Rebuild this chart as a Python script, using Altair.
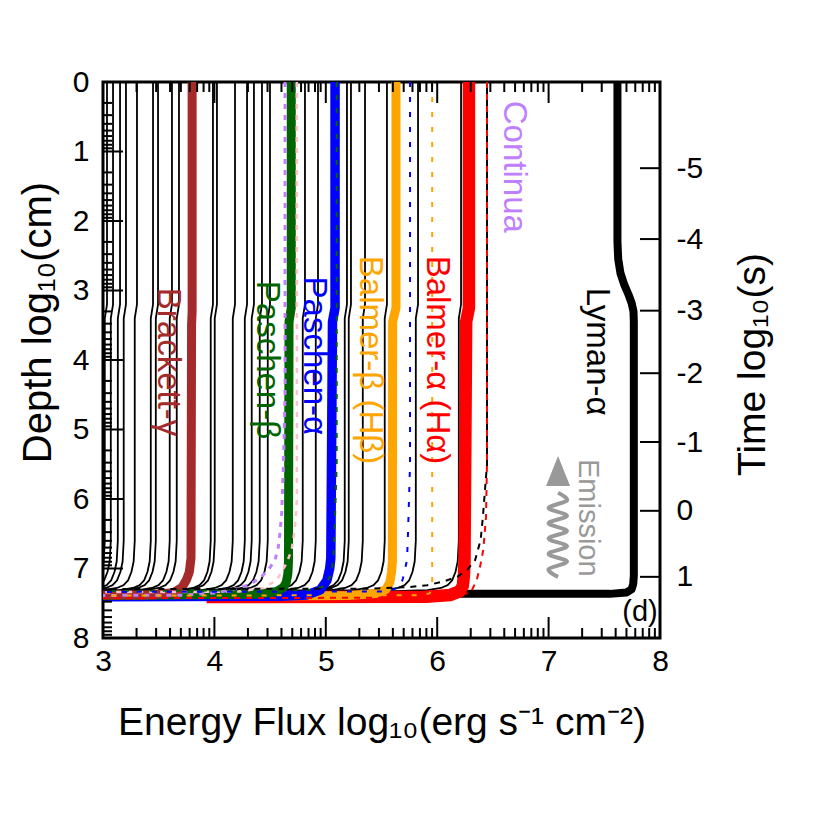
import altair as alt
import pandas as pd

W, H = 557, 556
FONT = "Liberation Sans"

# ---------------- data ----------------
# thin black lines: flux at the surface (log10 erg s-1 cm-2)
THIN_F0 = [3.036, 3.09, 3.153, 3.206, 3.305, 3.449, 3.494, 3.619, 3.682,
           3.987, 4.023, 4.185, 4.293, 4.355, 4.427, 4.499, 4.813, 4.93,
           5.19, 5.226, 5.352, 5.549, 5.828, 6.214]
# common shape of the thin lines (depth, flux change)
PROFILE_DEPTH = [0.0, 3.2, 3.4, 6.6, 6.9, 7.05, 7.17, 7.24, 7.28, 7.31, 7.325, 7.33]
PROFILE_DF = [0.0, 0.0, -0.02, -0.02, -0.03, -0.05, -0.08, -0.12, -0.18, -0.3, -0.6, -5.0]

BRACKETT_X = [3.80, 3.80, 3.795, 3.79, 3.775, 3.75, 3.71, 3.63, 3.4, 2.0]
BRACKETT_Y = [0.0, 3.3, 3.5, 6.85, 7.05, 7.16, 7.27, 7.35, 7.38, 7.39]
PASCHEN_B_X = [4.69, 4.69, 4.67, 4.665, 4.66, 4.645, 4.62, 4.56, 4.4, 2.0]
PASCHEN_B_Y = [0.0, 3.25, 3.45, 6.9, 7.07, 7.2, 7.27, 7.33, 7.37, 7.40]
PASCHEN_A_X = [5.083, 5.083, 5.06, 5.045, 5.035, 5.01, 4.95, 4.83, 4.6, 2.0]
PASCHEN_A_Y = [0.0, 3.25, 3.45, 6.85, 7.0, 7.17, 7.31, 7.38, 7.40, 7.41]
BALMER_B_X = [5.63, 5.63, 5.60, 5.598, 5.59, 5.575, 5.54, 5.45, 5.2, 4.0]
BALMER_B_Y = [0.0, 3.25, 3.45, 6.9, 7.05, 7.2, 7.3, 7.36, 7.39, 7.40]
BALMER_A_X = [6.285, 6.285, 6.26, 6.245, 6.24, 6.23, 6.2, 6.12, 5.9, 3.93]
BALMER_A_Y = [0.0, 3.25, 3.45, 6.9, 7.1, 7.25, 7.33, 7.38, 7.405, 7.41]
LYMAN_X = [7.618, 7.618, 7.625, 7.645, 7.68, 7.715, 7.745, 7.762, 7.765, 7.765,
           7.76, 7.745, 7.70, 7.55, 6.2]
LYMAN_Y = [0.0, 2.3, 2.55, 2.75, 2.92, 3.05, 3.18, 3.3, 3.45, 7.1,
           7.22, 7.3, 7.345, 7.365, 7.365]

PURPLE_X = [4.634, 4.634, 4.62, 4.604, 4.589, 4.574, 4.544, 4.484, 4.409, 4.305, 4.17, 4.02, 3.7, 2.0]
PURPLE_Y = [0.0, 4.5, 5.5, 6.2, 6.48, 6.69, 6.88, 7.02, 7.14, 7.24, 7.3, 7.35, 7.385, 7.39]
PINK_X = [4.74, 4.74, 4.724, 4.694, 4.649, 4.559, 4.439, 4.2, 2.0]
PINK_Y = [0.0, 6.0, 6.4, 6.73, 6.92, 7.17, 7.28, 7.335, 7.345]
GREEN_DOT_X = [5.098, 5.098, 5.083, 5.068, 5.038, 4.978, 4.85, 2.0]
GREEN_DOT_Y = [0.0, 5.5, 6.26, 6.88, 7.12, 7.26, 7.31, 7.33]
BLUE_DOT_X = [5.756, 5.756, 5.738, 5.729, 5.693, 5.666, 5.55, 2.0]
BLUE_DOT_Y = [0.0, 5.5, 6.49, 6.88, 7.14, 7.27, 7.33, 7.34]
ORANGE_DOT_X = [5.955, 5.955, 5.95, 5.93, 5.85, 2.0]
ORANGE_DOT_Y = [0.0, 7.2, 7.3, 7.36, 7.385, 7.39]
BLACK_DASH_X = [6.447, 6.447, 6.41, 6.39, 6.34, 6.27, 6.18, 6.05, 5.91, 5.73, 5.4, 2.0]
BLACK_DASH_Y = [0.0, 5.5, 6.26, 6.59, 6.88, 7.02, 7.12, 7.19, 7.24, 7.27, 7.29, 7.30]
RED_DASH_X = [6.447, 6.447, 6.438, 6.414, 6.384, 6.354, 6.324, 6.30, 6.0, 2.0]
RED_DASH_Y = [0.0, 5.5, 6.26, 6.73, 6.98, 7.17, 7.27, 7.35, 7.42, 7.43]

WAVE_X = [7.085, 7.0, 7.165, 7.0, 7.165, 7.0, 7.165, 7.0, 7.165, 7.0, 7.165, 7.085]
WAVE_Y = [7.12, 7.01, 6.90, 6.79, 6.68, 6.57, 6.46, 6.35, 6.24, 6.13, 6.02, 5.91]
ARROW_X = [7.085]
ARROW_Y = [5.64]

LABELS = ["Brackett-γ", "Paschen-β", "Paschen-α", "Balmer-β (Hβ)", "Balmer-α (Hα)", "Continua", "Lyman-α"]
LABEL_X = [3.585, 4.47, 4.89, 5.40, 6.00, 6.69, 7.43]
LABEL_Y = [4.03, 4.00, 3.94, 4.00, 4.00, 1.22, 3.88]
LABEL_COLORS = ["#A52A2A", "#006400", "#0000FF", "#FFA500", "#FF0000", "#BF80FF", "#000000"]

X_TICKS = [3, 4, 5, 6, 7, 8]
Y_TICKS = [0, 1, 2, 3, 4, 5, 6, 7, 8]
LOG_MINOR = [0.301, 0.477, 0.602, 0.699, 0.778, 0.845, 0.903, 0.954]
TIME_TICK_DEPTH = [1.24, 2.26, 3.29, 4.19, 5.18, 6.17, 7.12]
TIME_LABELS = ["-5", "-4", "-3", "-2", "-1", "0", "1"]

# ---------------- scales ----------------
xscale = alt.Scale(domain=[3, 8], nice=False, zero=False)
yscale = alt.Scale(domain=[0, 8], nice=False, zero=False, reverse=True)


def X(f):
    return alt.X(f, type="quantitative", scale=xscale, axis=None)


def Y(f):
    return alt.Y(f, type="quantitative", scale=yscale, axis=None)


def line_layer(xs, ys, color, width, dash=None, dash_offset=None, interp=None):
    df = pd.DataFrame({"x": xs, "y": ys, "o": list(range(len(xs)))})
    kw = dict(color=color, strokeWidth=width, clip=True, strokeJoin="round")
    if dash is not None:
        kw["strokeDash"] = dash
    if dash_offset is not None:
        kw["strokeDashOffset"] = dash_offset
    if interp is not None:
        kw["interpolate"] = interp
    return alt.Chart(df).mark_line(**kw).encode(x=X("x"), y=Y("y"), order="o:Q")


layers = []

# thin black lines
rows = []
for i, f0 in enumerate(THIN_F0):
    for j, (d, df_) in enumerate(zip(PROFILE_DEPTH, PROFILE_DF)):
        rows.append({"line": i, "x": f0 + df_, "y": d, "o": j})
thin = pd.DataFrame(rows)
layers.append(
    alt.Chart(thin).mark_line(color="black", strokeWidth=1.8, clip=True, strokeJoin="round")
    .encode(x=X("x"), y=Y("y"), detail="line:N", order="o:Q")
)

# thick lines (drawn right to left so left bands sit on top at the bottom)
layers.append(line_layer(LYMAN_X, LYMAN_Y, "black", 8))
layers.append(line_layer(BALMER_A_X, BALMER_A_Y, "#FF0000", 12.5))
layers.append(line_layer(BALMER_B_X, BALMER_B_Y, "#FFA500", 9))
layers.append(line_layer(PASCHEN_A_X, PASCHEN_A_Y, "#0000FF", 9.5))
layers.append(line_layer(PASCHEN_B_X, PASCHEN_B_Y, "#006400", 9))
layers.append(line_layer(BRACKETT_X, BRACKETT_Y, "#A52A2A", 9))

# dotted / dashed continua
layers.append(line_layer(PURPLE_X, PURPLE_Y, "#BF80FF", 3, dash=[5, 6]))
layers.append(line_layer(PINK_X, PINK_Y, "#FFC0CB", 2.5, dash=[5, 6]))
layers.append(line_layer(GREEN_DOT_X, GREEN_DOT_Y, "#006400", 2, dash=[5, 8]))
layers.append(line_layer(BLUE_DOT_X, BLUE_DOT_Y, "#0000FF", 2, dash=[5, 10]))
layers.append(line_layer(ORANGE_DOT_X, ORANGE_DOT_Y, "#FFA500", 2, dash=[5, 10]))
layers.append(line_layer(RED_DASH_X, RED_DASH_Y, "#FF0000", 2, dash=[6, 6]))
layers.append(line_layer(BLACK_DASH_X, BLACK_DASH_Y, "black", 2, dash=[6, 6], dash_offset=6))

# wavy emission arrow
layers.append(line_layer(WAVE_X, WAVE_Y, "#999999", 4, interp="cardinal"))
layers.append(
    alt.Chart(pd.DataFrame({"x": ARROW_X, "y": ARROW_Y}))
    .mark_point(shape="M0,-1.2L0.8,0.8L-0.8,0.8Z", filled=True, color="#999999",
                size=900, opacity=1, strokeWidth=0)
    .encode(x=X("x"), y=Y("y"))
)

# text labels
lab = pd.DataFrame({"t": LABELS, "x": LABEL_X, "y": LABEL_Y, "c": LABEL_COLORS})
layers.append(
    alt.Chart(lab).mark_text(angle=90, font=FONT, fontSize=33, align="center", baseline="middle")
    .encode(x=X("x"), y=Y("y"), text="t:N", color=alt.Color("c:N", scale=None))
)
layers.append(
    alt.Chart(pd.DataFrame({"t": ["Emission"], "x": [7.35], "y": [6.27]}))
    .mark_text(angle=90, font=FONT, fontSize=29, color="#999999", align="center", baseline="middle")
    .encode(x=X("x"), y=Y("y"), text="t:N")
)
layers.append(
    alt.Chart(pd.DataFrame({"t": ["(d)"], "x": [7.82], "y": [7.63]}))
    .mark_text(font=FONT, fontSize=29, color="black", align="center", baseline="middle")
    .encode(x=X("x"), y=Y("y"), text="t:N")
)

# inward ticks
x_minor = [t + m for t in X_TICKS[:-1] for m in LOG_MINOR]
y_minor = [t + m for t in Y_TICKS[:-1] for m in LOG_MINOR]
dfxM = pd.DataFrame({"v": X_TICKS})
dfxm = pd.DataFrame({"v": x_minor})
dfyM = pd.DataFrame({"v": Y_TICKS})
dfym = pd.DataFrame({"v": y_minor})
dft = pd.DataFrame({"v": TIME_TICK_DEPTH})
rule = dict(color="black", strokeWidth=2)
layers.append(alt.Chart(dfxM).mark_rule(**rule).encode(x=X("v"), y=alt.value(H), y2=alt.value(H - 21)))
layers.append(alt.Chart(dfxM).mark_rule(**rule).encode(x=X("v"), y=alt.value(0), y2=alt.value(21)))
layers.append(alt.Chart(dfxm).mark_rule(**rule).encode(x=X("v"), y=alt.value(H), y2=alt.value(H - 10)))
layers.append(alt.Chart(dfxm).mark_rule(**rule).encode(x=X("v"), y=alt.value(0), y2=alt.value(10)))
layers.append(alt.Chart(dfyM).mark_rule(**rule).encode(y=Y("v"), x=alt.value(0), x2=alt.value(20)))
layers.append(alt.Chart(dfym).mark_rule(**rule).encode(y=Y("v"), x=alt.value(0), x2=alt.value(9)))
layers.append(alt.Chart(dft).mark_rule(**rule).encode(y=Y("v"), x=alt.value(W), x2=alt.value(W - 20)))

# axes layers (invisible points)
axis_df = pd.DataFrame({"x": [3], "y": [0]})
layers.append(
    alt.Chart(axis_df).mark_point(opacity=0).encode(
        x=alt.X("x:Q", scale=xscale, title="Energy Flux log₁₀(erg s⁻¹ cm⁻²)",
                axis=alt.Axis(values=X_TICKS, format="d", labelPadding=8, labelFlush=False,
                              titleFontSize=39,
                              titleY=84, titleX=W / 2, titleAlign="center", titleBaseline="middle")),
        y=alt.Y("y:Q", scale=yscale, title="Depth log₁₀(cm)",
                axis=alt.Axis(values=Y_TICKS, format="d", labelPadding=14, labelFlush=False,
                              titleFontSize=40,
                              titleX=-65, titleY=240, titleAlign="center", titleBaseline="middle",
                              titleAngle=270)),
    )
)
label_expr = "[" + ",".join("'%s'" % s for s in TIME_LABELS) + "][indexof([" + \
    ",".join(str(v) for v in TIME_TICK_DEPTH) + "], datum.value)]"
layers.append(
    alt.Chart(pd.DataFrame({"t": [0]})).mark_point(opacity=0).encode(
        y=alt.Y("t:Q", scale=yscale, title="Time log₁₀(s)",
                axis=alt.Axis(orient="right", values=TIME_TICK_DEPTH, labelExpr=label_expr,
                              labelPadding=16, labelAlign="left", labelFlush=False,
                              titleFontSize=39,
                              titleX=92, titleY=H / 2 + 4, titleAlign="center", titleBaseline="middle",
                              titleAngle=270)),
    )
)

chart = (
    alt.layer(*layers)
    .resolve_axis(x="independent", y="independent")
    .properties(width=W, height=H, autosize=alt.AutoSizeParams(type="none"),
                background="white",
                padding={"left": 95, "top": 74, "right": 162, "bottom": 184})
    .configure_view(stroke="black", strokeWidth=3)
    .configure_axis(grid=False, domain=False, ticks=False,
                    labelFont=FONT, labelFontSize=30, labelColor="black",
                    titleFont=FONT, titleFontSize=38, titleFontWeight="normal", titleColor="black")
)

chart.save("out.html", embed_options={"renderer": "svg", "actions": False})
